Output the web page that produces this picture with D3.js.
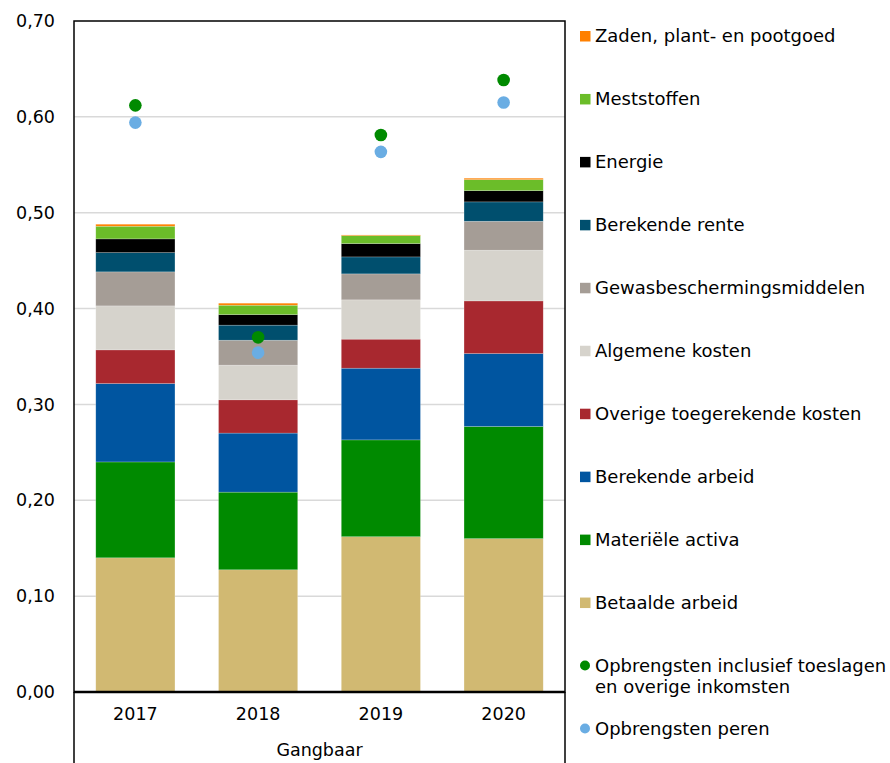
<!DOCTYPE html>
<html>
<head>
<meta charset="utf-8">
<script src="https://cdn.jsdelivr.net/npm/d3@7"></script>
<style>
  html, body { margin: 0; padding: 0; background: #fff; }
  svg { display: block; font-family: "DejaVu Sans", Verdana, sans-serif; }
</style>
</head>
<body>
<svg id="chart" width="890" height="763"></svg>
<script>
// ---- Data ----
const years = ["2017", "2018", "2019", "2020"];
const groupLabel = "Gangbaar";

// cost components (bottom to top)
const betaaldeArbeid      = [0.140, 0.1275, 0.162, 0.160];
const materieleActiva     = [0.100, 0.081, 0.101, 0.117];
const berekendeArbeid     = [0.0818, 0.0616, 0.0748, 0.0761];
const overigeToegerekend  = [0.0351, 0.0347, 0.0303, 0.0549];
const algemeneKosten      = [0.0459, 0.0362, 0.041, 0.0529];
const gewasbescherming    = [0.0355, 0.026, 0.0271, 0.0302];
const berekendeRente      = [0.0201, 0.0157, 0.0177, 0.0202];
const energie             = [0.0143, 0.011, 0.0139, 0.0117];
const meststoffen         = [0.0132, 0.0098, 0.0083, 0.0115];
const zaden               = [0.0021, 0.0021, 0.0007, 0.0015];

// revenue points
const opbrengstenIncl  = [0.612, 0.370, 0.581, 0.6385];
const opbrengstenPeren = [0.594, 0.354, 0.5635, 0.615];

const yTicks = [0, 0.1, 0.2, 0.3, 0.4, 0.5, 0.6, 0.7];

const seriesNames = [
  "Betaalde arbeid", "Materiële activa", "Berekende arbeid",
  "Overige toegerekende kosten", "Algemene kosten", "Gewasbeschermingsmiddelen",
  "Berekende rente", "Energie", "Meststoffen", "Zaden, plant- en pootgoed"
];
const seriesValues = [
  betaaldeArbeid, materieleActiva, berekendeArbeid, overigeToegerekend,
  algemeneKosten, gewasbescherming, berekendeRente, energie, meststoffen, zaden
];
const seriesColors = [
  "#d1b972", "#008a00", "#0055a0", "#a8282f", "#d6d3cc",
  "#a59d96", "#004f6e", "#000000", "#6bbd29", "#ff8000"
];
const dotNames = ["Opbrengsten inclusief toeslagen|en overige inkomsten", "Opbrengsten peren"];
const dotValues = [opbrengstenIncl, opbrengstenPeren];
const dotColors = ["#008a00", "#6aade3"];

// ---- Layout ----
const svg = d3.select("#chart");
const X0 = 74, X1 = 565, Y0 = 21, Y1 = 692;
const axisFont = 17.5, legendFont = 18;

const x = d3.scaleBand().domain(years).range([X0, X1]).paddingInner(0.355).paddingOuter(0.1775);
const y = d3.scaleLinear().domain([0, 0.7]).range([Y1, Y0]);
const fmt = v => d3.format(".2f")(v).replace(".", ",");

// gridlines
svg.append("g").selectAll("line").data(yTicks.filter(t => t > 0 && t < 0.7)).join("line")
  .attr("x1", X0).attr("x2", X1)
  .attr("y1", d => y(d)).attr("y2", d => y(d))
  .attr("stroke", "#d9d9d9").attr("stroke-width", 1.5);

// stacked bars
const table = years.map((yr, i) => {
  const o = { year: yr };
  seriesNames.forEach((n, k) => o[n] = seriesValues[k][i]);
  return o;
});
const stacked = d3.stack().keys(seriesNames)(table);
svg.append("g").selectAll("g").data(stacked).join("g")
  .attr("fill", (d, k) => seriesColors[k])
  .selectAll("rect").data(d => d).join("rect")
  .attr("x", d => x(d.data.year))
  .attr("width", x.bandwidth())
  .attr("y", d => y(d[1]))
  .attr("height", d => y(d[0]) - y(d[1]))
  .attr("stroke", "rgba(255,255,255,0.35)").attr("stroke-width", 0.6);

// dots
dotValues.forEach((vals, k) => {
  svg.append("g").selectAll("circle").data(vals).join("circle")
    .attr("cx", (d, i) => x(years[i]) + x.bandwidth() / 2)
    .attr("cy", d => y(d))
    .attr("r", 6.3)
    .attr("fill", dotColors[k]);
});

// plot frame
svg.append("rect").attr("x", X0).attr("y", Y0).attr("width", X1 - X0).attr("height", Y1 - Y0)
  .attr("fill", "none").attr("stroke", "#000").attr("stroke-width", 1.5);
// extended category dividers
svg.append("line").attr("x1", X0).attr("x2", X0).attr("y1", Y1).attr("y2", 763)
  .attr("stroke", "#000").attr("stroke-width", 1.5);
svg.append("line").attr("x1", X1).attr("x2", X1).attr("y1", Y1).attr("y2", 763)
  .attr("stroke", "#000").attr("stroke-width", 1.5);
svg.append("line").attr("x1", X0).attr("x2", X1).attr("y1", Y1).attr("y2", Y1)
  .attr("stroke", "#000").attr("stroke-width", 2.5);

// y axis labels
const yAxis = d3.axisLeft(y).tickValues(yTicks).tickFormat(fmt).tickSize(0).tickPadding(19);
const ya = svg.append("g").attr("transform", `translate(${X0},0)`).call(yAxis);
ya.select(".domain").remove();
ya.selectAll("text").attr("font-size", axisFont).attr("font-family", "DejaVu Sans, Verdana, sans-serif").attr("fill", "#000");

// x axis labels
const xAxis = d3.axisBottom(x).tickSize(0).tickPadding(16);
const xa = svg.append("g").attr("transform", `translate(0,${Y1})`).call(xAxis);
xa.select(".domain").remove();
xa.selectAll("text").attr("font-size", axisFont).attr("font-family", "DejaVu Sans, Verdana, sans-serif").attr("fill", "#000");

svg.append("text").attr("x", (X0 + X1) / 2).attr("y", 750).attr("dy", "0.35em")
  .attr("text-anchor", "middle").attr("font-size", axisFont).text(groupLabel);

// legend
const legY0 = 36, legStep = 62.95;
const legendItems = [];
for (let k = seriesNames.length - 1; k >= 0; k--) legendItems.push({ name: seriesNames[k], color: seriesColors[k], type: "sq" });
dotNames.forEach((n, k) => legendItems.push({ name: n, color: dotColors[k], type: "dot" }));

const leg = svg.append("g");
legendItems.forEach((it, i) => {
  const cy = legY0 + i * legStep;
  if (it.type === "sq") {
    leg.append("rect").attr("x", 580).attr("y", cy - 5).attr("width", 10.5).attr("height", 10.5).attr("fill", it.color);
  } else {
    leg.append("circle").attr("cx", 585).attr("cy", cy).attr("r", 5).attr("fill", it.color);
  }
  const lines = it.name.split("|");
  const t = leg.append("text").attr("x", 595).attr("y", cy).attr("font-size", legendFont).attr("fill", "#000");
  lines.forEach((ln, j) => {
    t.append("tspan").attr("x", 595).attr("dy", j === 0 ? "0.35em" : "1.2em").text(ln);
  });
});
</script>
</body>
</html>
